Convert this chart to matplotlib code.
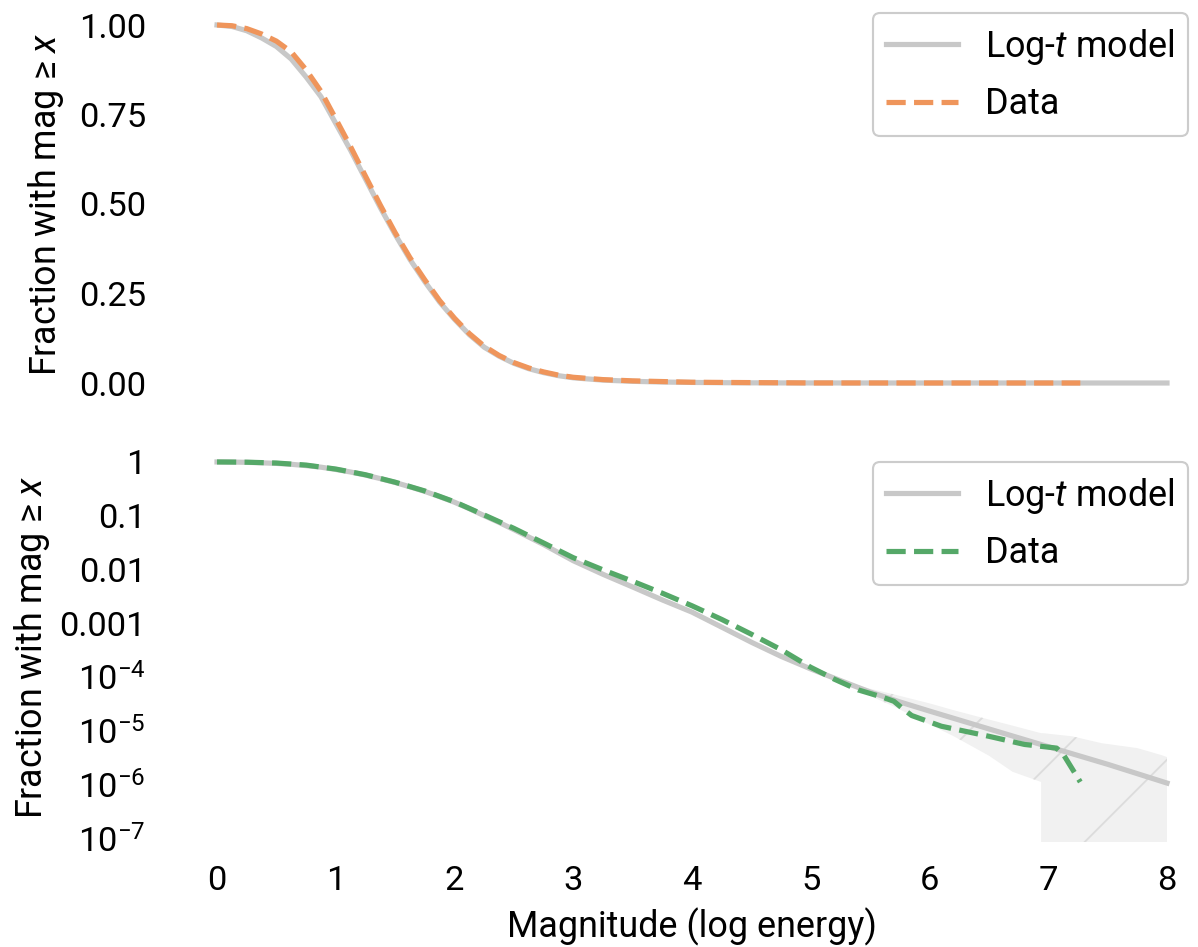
import numpy as np
import matplotlib
matplotlib.use("Agg")
import matplotlib.pyplot as plt

plt.rcParams['font.family'] = ['Roboto', 'DejaVu Sans']
plt.rcParams['font.size'] = 7.6
plt.rcParams['xtick.labelsize'] = 7.3
plt.rcParams['ytick.labelsize'] = 7.3
plt.rcParams['mathtext.fontset'] = 'custom'
plt.rcParams['mathtext.rm'] = 'Roboto'
plt.rcParams['mathtext.it'] = 'Roboto:italic'
plt.rcParams['hatch.color'] = '#dcdcdc'
plt.rcParams['hatch.linewidth'] = 0.4

# log-t model survival curve
model_x = [0, 0.125, 0.25, 0.375, 0.5, 0.625, 0.75, 0.875, 1.0, 1.125, 1.25, 1.375,
           1.5, 1.625, 1.75, 1.875, 2.0, 2.125, 2.25, 2.375, 2.5, 2.625, 2.75, 2.875,
           3.0, 3.25, 3.5, 3.75, 4.0, 4.25, 4.5, 4.75, 5.0, 5.25, 5.5, 5.75, 6.0,
           6.5, 7.0, 7.5, 8.0]
model_y = [1.0, 0.996, 0.984, 0.964, 0.94, 0.905, 0.855, 0.80, 0.725, 0.65, 0.57, 0.49,
           0.415, 0.345, 0.283, 0.226, 0.178, 0.135, 0.10, 0.075, 0.055, 0.040, 0.029,
           0.0205, 0.0145, 0.0081, 0.0047, 0.0027, 0.0016, 8.4e-4, 4.4e-4, 2.4e-4,
           1.4e-4, 8.5e-5, 5.2e-5, 3.4e-5, 2.3e-5, 1.07e-5, 5.0e-6, 2.35e-6, 1.05e-6]

# empirical data, top panel
data_top_x = [0, 0.125, 0.25, 0.375, 0.5, 0.625, 0.75, 0.875, 1.0, 1.125, 1.25, 1.375,
              1.5, 1.625, 1.75, 1.875, 2.0, 2.125, 2.25, 2.375, 2.5, 2.625, 2.75,
              2.875, 3.0, 3.25, 3.5, 4.0, 5.0, 6.0, 7.27]
data_top_y = [1.0, 0.998, 0.99, 0.975, 0.955, 0.925, 0.875, 0.815, 0.738, 0.66, 0.578,
              0.497, 0.42, 0.35, 0.288, 0.23, 0.181, 0.138, 0.103, 0.077, 0.057, 0.042,
              0.031, 0.022, 0.016, 0.0095, 0.006, 0.0021, 1.5e-4, 1.2e-5, 1.1e-6]

# empirical data, bottom panel
data_bot_x = [0, 0.25, 0.5, 0.75, 1.0, 1.25, 1.5, 1.75, 2.0, 2.25, 2.5, 2.75, 3.0,
              3.25, 3.5, 3.75, 4.0, 4.25, 4.5, 4.75, 5.0, 5.2, 5.4, 5.6, 5.7, 5.78,
              5.85, 6.1, 6.5, 6.8, 7.07, 7.13, 7.27]
data_bot_y = [1.0, 0.99, 0.955, 0.875, 0.738, 0.578, 0.42, 0.288, 0.181, 0.103, 0.058,
              0.031, 0.0165, 0.0098, 0.0060, 0.0036, 0.0021, 1.17e-3, 6.2e-4, 3.2e-4,
              1.5e-4, 9.0e-5, 5.7e-5, 4.2e-5, 3.5e-5, 2.5e-5, 1.9e-5, 1.2e-5, 7.8e-6,
              5.5e-6, 4.7e-6, 3.5e-6, 1.1e-6]

# uncertainty band around the model tail
band_x = [5.35, 5.5, 5.7, 6.0, 6.2, 6.5, 6.7, 6.94, 6.96, 7.2, 7.45, 7.75, 7.95, 8.0]
band_hi = [7.4e-5, 6.0e-5, 4.7e-5, 3.2e-5, 2.4e-5, 1.6e-5, 1.23e-5, 8.9e-6, 8.9e-6,
           7.8e-6, 5.8e-6, 4.7e-6, 3.5e-6, 3.2e-6]
band_lo = [6.6e-5, 4.4e-5, 2.8e-5, 1.3e-5, 7.9e-6, 3.4e-6, 1.7e-6, 1.1e-6, 0, 0,
           0, 0, 0, 0]

log_ticks = [1, 0.1, 0.01, 0.001, 1e-4, 1e-5, 1e-6, 1e-7]
log_labels = ['1', '0.1', '0.01', '0.001', r'$10^{-4}$', r'$10^{-5}$',
              r'$10^{-6}$', r'$10^{-7}$']

model_color = '#c8c8c8'
orange = '#ef955b'
green = '#55a868'

W, H = 1198, 947
dpi = 340
fig = plt.figure(figsize=(W / dpi, H / dpi), dpi=dpi)

ax1 = fig.add_axes([169.5 / W, 1 - 400.9 / H, 1045 / W, 393.8 / H])
ax2 = fig.add_axes([169.5 / W, 1 - 841.7 / H, 1045 / W, 389.2 / H])

ax1.plot(model_x, model_y, color=model_color, lw=1.1, label='Log-$t$ model')
ax1.plot(data_top_x, data_top_y, color=orange, lw=1.1, ls='--', label='Data')
ax1.set_xlim(-0.4, 8.4)
ax1.set_ylim(-0.05, 1.05)
ax1.set_yticks([0, 0.25, 0.5, 0.75, 1.0])
ax1.set_yticklabels(['0.00', '0.25', '0.50', '0.75', '1.00'])
ax1.set_xticks([])
ax1.set_ylabel('Fraction with mag ≥ $x$', labelpad=2.6)

ax2.fill_between(band_x, band_lo, band_hi, facecolor='#f1f1f1', edgecolor='#dcdcdc',
                 lw=0, hatch='/')
ax2.plot(model_x, model_y, color=model_color, lw=1.1, label='Log-$t$ model')
ax2.plot(data_bot_x, data_bot_y, color=green, lw=1.1, ls='--', label='Data')
ax2.set_yscale('log')
ax2.set_xlim(-0.4, 8.4)
ax2.set_ylim(8.5e-8, 1.5)
ax2.set_yticks(log_ticks)
ax2.set_yticklabels(log_labels)
ax2.minorticks_off()
ax2.set_xticks(range(9))
ax2.set_xlabel('Magnitude (log energy)', labelpad=2.2)
ax2.set_ylabel('Fraction with mag ≥ $x$', labelpad=1.6)

for ax in (ax1, ax2):
    for s in ax.spines.values():
        s.set_visible(False)
    ax.tick_params(length=0, pad=5)
    ax.patch.set_visible(False)

for ax, top in ((ax1, 13), (ax2, 462)):
    leg = fig.legend(*ax.get_legend_handles_labels(), loc='upper right',
                     bbox_to_anchor=(1188 / W, 1 - top / H), borderaxespad=0,
                     edgecolor='#cccccc', framealpha=1, borderpad=0.38,
                     labelspacing=0.55, handletextpad=0.75)
    leg.get_frame().set_linewidth(0.45)

fig.savefig('out.png', dpi=dpi)
